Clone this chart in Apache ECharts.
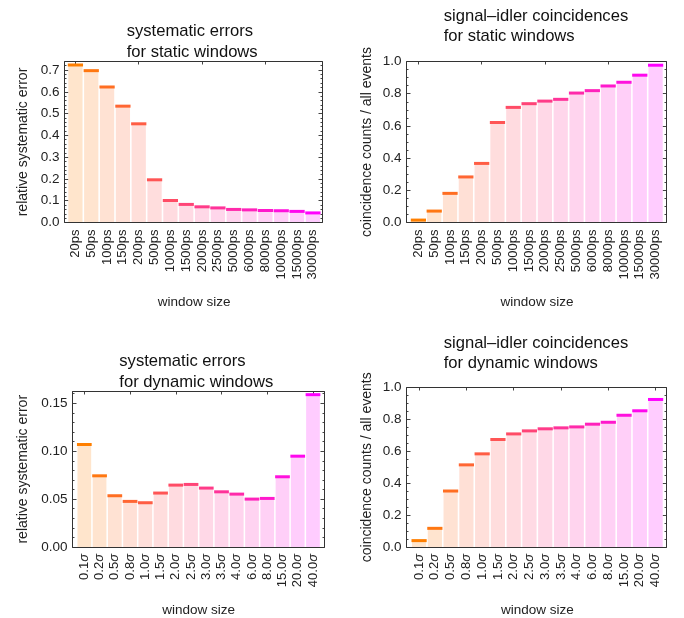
<!DOCTYPE html>
<html>
<head>
<meta charset="utf-8">
<script src="https://cdn.jsdelivr.net/npm/echarts@6/dist/echarts.min.js"></script>
<style>html,body{margin:0;padding:0;background:#fff;}#c{width:684px;height:618px;}</style>
</head>
<body>
<div id="c"></div>
<script>
const staticCats = ['20ps','50ps','100ps','150ps','200ps','500ps','1000ps','1500ps','2000ps','2500ps','5000ps','6000ps','8000ps','10000ps','15000ps','30000ps'];
const dynamicCats = ['0.1σ','0.2σ','0.5σ','0.8σ','1.0σ','1.5σ','2.0σ','2.5σ','3.0σ','3.5σ','4.0σ','6.0σ','8.0σ','15.0σ','20.0σ','40.0σ'];
const staticErr = [0.723,0.697,0.622,0.534,0.453,0.196,0.101,0.083,0.072,0.067,0.060,0.058,0.055,0.054,0.051,0.044];
const staticCoinc = [0.015,0.071,0.181,0.283,0.367,0.621,0.715,0.738,0.754,0.765,0.804,0.819,0.848,0.871,0.915,0.977];
const dynamicErr = [0.107,0.0743,0.0535,0.0476,0.0462,0.0563,0.0646,0.0653,0.0615,0.0576,0.0552,0.0500,0.0507,0.0733,0.0948,0.159];
const dynamicCoinc = [0.040,0.117,0.351,0.515,0.584,0.674,0.709,0.728,0.741,0.747,0.753,0.770,0.782,0.826,0.854,0.925];
const titles = [
  'systematic errors\nfor static windows',
  'signal–idler coincidences\nfor static windows',
  'systematic errors\nfor dynamic windows',
  'signal–idler coincidences\nfor dynamic windows'
];
const yNames = ['relative systematic error','coincidence counts / all events','relative systematic error','coincidence counts / all events'];
const xName = 'window size';

const FONT = "'Liberation Sans', Arial, Helvetica, sans-serif";
const panels = [
  {cats: staticCats, vals: staticErr, box:[64.5,61.5,322.5,222.5], gl:67.5, gr:320.8, max:0.739, iv:0.1, minor:0.02, dec:1, yng:34, xng:73, tl:126.7, tt:21.5},
  {cats: staticCats, vals: staticCoinc, box:[406.5,61.5,666.5,222.5], gl:410.5, gr:663.5, max:1.0, iv:0.2, minor:0.05, dec:1, yng:32, xng:73, tl:443.7, tt:6.3},
  {cats: dynamicCats, vals: dynamicErr, box:[72.5,391.5,324.5,547.5], gl:76.7, gr:320.6, max:0.1623, iv:0.05, minor:0.01, dec:2, yng:42, xng:56, tl:119.3, tt:351.5},
  {cats: dynamicCats, vals: dynamicCoinc, box:[406.5,387.5,666.5,547.5], gl:411.2, gr:663.5, max:1.0, iv:0.2, minor:0.05, dec:1, yng:32, xng:56, tl:443.7, tt:333.1}
];

function lineColor(t){
  const g = Math.round(127*(1-t)), b = Math.round(255*t);
  return 'rgb(255,'+g+','+b+')';
}
function fillColor(t){
  const g = Math.round(127*(1-t)), b = Math.round(255*t);
  const a = 0.2;
  return 'rgb(255,'+Math.round(255-a*(255-g))+','+Math.round(255-a*(255-b))+')';
}

const option = {animation:false, title:[], grid:[], xAxis:[], yAxis:[], series:[], graphic:[]};
const tickColor = '#444';
panels.forEach((p,k)=>{
  const [bl,bt,br,bb] = p.box;
  option.title.push({text: titles[k], left: p.tl, top: p.tt, padding:0, textAlign:'left',
    textStyle:{fontSize:16.6, fontWeight:'normal', color:'#111', lineHeight:20.4, fontFamily:FONT}});
  option.grid.push({left:p.gl, top:bt, width:p.gr-p.gl, height:bb-bt});
  option.xAxis.push({gridIndex:k, type:'category', data:p.cats, position:'bottom',
    axisLine:{show:false,onZero:false},
    axisTick:{show:true, inside:true, alignWithLabel:true, length:3, lineStyle:{color:tickColor}},
    axisLabel:{interval:0, rotate:90, margin:7, fontSize:13, color:'#222', fontFamily:FONT,
      formatter: v => v.replace('σ','{i|σ}'),
      rich:{i:{fontStyle:'italic', fontSize:13, color:'#222', fontFamily:FONT}}},
    name:xName, nameLocation:'middle', nameGap:p.xng,
    nameTextStyle:{fontSize:13.5, color:'#222', fontFamily:FONT}});
  option.xAxis.push({gridIndex:k, type:'category', data:p.cats, position:'top',
    axisLine:{show:false,onZero:false},
    axisTick:{show:true, inside:true, alignWithLabel:true, length:3, lineStyle:{color:tickColor}},
    axisLabel:{show:false}});
  const offL = p.gl - bl, offR = br - p.gr;
  const iv = p.iv, dec = p.dec;
  option.yAxis.push({gridIndex:k, type:'value', min:0, max:p.max, interval:iv, position:'left', offset:offL,
    axisLine:{show:false}, splitLine:{show:false},
    axisTick:{show:true, inside:true, length:4, lineStyle:{color:tickColor}},
    axisLabel:{margin:5, fontSize:13.5, color:'#222', fontFamily:FONT, showMaxLabel:true,
      formatter: v => (Math.abs(v/iv - Math.round(v/iv)) < 1e-6 ? v.toFixed(dec) : '')},
    name:yNames[k], nameLocation:'middle', nameGap:p.yng,
    nameTextStyle:{fontSize:14, color:'#222', fontFamily:FONT}});
  option.yAxis.push({gridIndex:k, type:'value', min:0, max:p.max, interval:p.minor, position:'left', offset:offL,
    axisLine:{show:false}, splitLine:{show:false}, axisLabel:{show:false},
    axisTick:{show:true, inside:true, length:2, lineStyle:{color:tickColor}}});
  option.yAxis.push({gridIndex:k, type:'value', min:0, max:p.max, interval:iv, position:'right', offset:offR,
    axisLine:{show:false}, splitLine:{show:false}, axisLabel:{show:false},
    axisTick:{show:true, inside:true, length:4, lineStyle:{color:tickColor}}});
  option.yAxis.push({gridIndex:k, type:'value', min:0, max:p.max, interval:p.minor, position:'right', offset:offR,
    axisLine:{show:false}, splitLine:{show:false}, axisLabel:{show:false},
    axisTick:{show:true, inside:true, length:2, lineStyle:{color:tickColor}}});
  const n = p.vals.length;
  option.series.push({type:'custom', xAxisIndex:2*k, yAxisIndex:4*k,
    data: p.vals.map((v,i)=>[i,v]), encode:{x:0,y:1},
    renderItem: function(params, api){
      const i = api.value(0), v = api.value(1);
      const top = api.coord([i, v]);
      const base = api.coord([i, 0]);
      const bw = api.size([1,0])[0]*0.9;
      const t = i/(n-1);
      return {type:'group', children:[
        {type:'rect', shape:{x:top[0]-bw/2, y:top[1], width:bw, height:base[1]-top[1]}, style:{fill:fillColor(t)}},
        {type:'rect', shape:{x:top[0]-bw/2-0.5, y:top[1]-1.5, width:bw+1, height:3}, style:{fill:lineColor(t)}}
      ]};
    }});
  option.graphic.push({type:'rect', z:100, silent:true,
    shape:{x:bl, y:bt, width:br-bl, height:bb-bt},
    style:{fill:null, stroke:'#333', lineWidth:1}});
});

const chart = echarts.init(document.getElementById('c'), null, {renderer:'canvas'});
chart.setOption(option);
</script>
</body>
</html>
